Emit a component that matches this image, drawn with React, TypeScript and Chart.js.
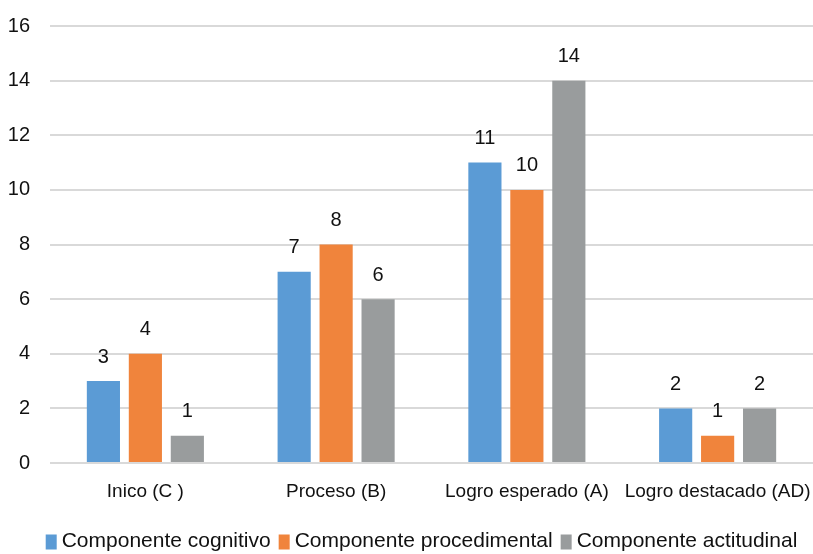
import React, { useEffect, useRef } from "react";
import { Chart, registerables } from "chart.js";

Chart.register(...registerables);

const categories = ["Inico (C )", "Proceso (B)", "Logro esperado (A)", "Logro destacado (AD)"];
const seriesNames = ["Componente cognitivo", "Componente procedimental", "Componente actitudinal"];
const cognitivo = [3, 7, 11, 2];
const procedimental = [4, 8, 10, 1];
const actitudinal = [1, 6, 14, 2];
const yTicks = [0, 2, 4, 6, 8, 10, 12, 14, 16];
const colors = ["#5B9BD5", "#F0843C", "#999C9D"];

const FONT = "'Liberation Sans', Arial, sans-serif";

const valueLabels = {
  id: "valueLabels",
  afterDatasetsDraw(chart: any) {
    const ctx = chart.ctx;
    ctx.save();
    ctx.font = `20px ${FONT}`;
    ctx.fillStyle = "#111";
    ctx.textAlign = "center";
    ctx.textBaseline = "bottom";
    chart.data.datasets.forEach((ds: any, i: number) => {
      const meta = chart.getDatasetMeta(i);
      meta.data.forEach((el: any, j: number) => {
        ctx.fillText(String(ds.data[j]), el.x, el.y - 14);
      });
    });
    ctx.restore();
  },
};

const bottomLegend = {
  id: "bottomLegend",
  afterDraw(chart: any) {
    const ctx = chart.ctx;
    ctx.save();
    ctx.font = `21px ${FONT}`;
    ctx.textBaseline = "middle";
    ctx.textAlign = "left";
    const boxW = 11, boxH = 15, gapText = 5, gapItem = 8;
    const items = chart.data.datasets.map((ds: any) => ({
      label: ds.label,
      color: ds.backgroundColor,
      w: boxW + gapText + ctx.measureText(ds.label).width,
    }));
    const total = items.reduce((s: number, it: any) => s + it.w, 0) + gapItem * (items.length - 1);
    const cx = (chart.chartArea.left + chart.chartArea.right) / 2 - 10;
    let x = cx - total / 2;
    const y = chart.height - 13;
    items.forEach((it: any) => {
      ctx.fillStyle = it.color;
      ctx.fillRect(x, y - boxH / 2 + 1, boxW, boxH);
      ctx.fillStyle = "#111";
      ctx.fillText(it.label, x + boxW + gapText, y);
      x += it.w + gapItem;
    });
    ctx.restore();
  },
};

export default function App() {
  const ref = useRef<HTMLCanvasElement | null>(null);
  useEffect(() => {
    if (!ref.current) return;
    const chart = new Chart(ref.current, {
      type: "bar",
      data: {
        labels: categories,
        datasets: [
          { label: seriesNames[0], data: cognitivo, backgroundColor: colors[0] },
          { label: seriesNames[1], data: procedimental, backgroundColor: colors[1] },
          { label: seriesNames[2], data: actitudinal, backgroundColor: colors[2] },
        ],
      },
      options: {
        animation: false,
        responsive: false,
        maintainAspectRatio: false,
        layout: { autoPadding: false, padding: { top: 26, left: 8, right: 0, bottom: 40 } },
        datasets: { bar: { categoryPercentage: 0.66, barPercentage: 0.79 } },
        plugins: {
          legend: { display: false },
          tooltip: { enabled: false },
        },
        scales: {
          x: {
            grid: { display: false },
            border: { display: false },
            ticks: { font: { family: FONT, size: 19 }, color: "#111", padding: 9, maxRotation: 0, autoSkip: false },
            afterFit: (a: any) => {
              a.paddingLeft = 0;
              a.paddingRight = 0;
              a.height = 51;
            },
          },
          y: {
            min: 0,
            max: 16,
            afterBuildTicks: (axis: any) => {
              axis.ticks = yTicks.map((v) => ({ value: v }));
            },
            grid: { color: "#D9D9D9", lineWidth: 2, drawTicks: false },
            border: { display: false },
            ticks: { font: { family: FONT, size: 20 }, color: "#111", padding: 20 },
            afterFit: (a: any) => {
              a.width = 42;
              a.paddingTop = 0;
              a.paddingBottom = 0;
            },
          },
        },
      },
      plugins: [valueLabels, bottomLegend],
    });
    return () => chart.destroy();
  }, []);
  return (
    <div style={{ position: "fixed", left: 0, top: 0, width: 813, height: 554, background: "#fff" }}>
      <canvas ref={ref} width={813} height={554} style={{ width: 813, height: 554 }} />
    </div>
  );
}
